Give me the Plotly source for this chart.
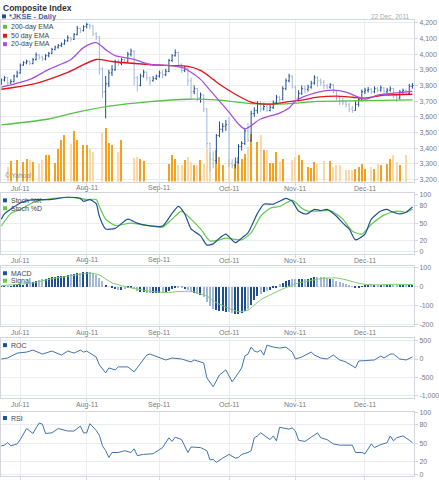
import plotly.graph_objects as go
import pandas as pd

# ---------------- data ----------------
days = [d.strftime("%Y-%m-%d") for d in pd.bdate_range("2011-06-23", "2011-12-22")]  # trading-day axis

month_ticks = ["2011-07-01", "2011-08-01", "2011-09-01", "2011-10-03", "2011-11-01", "2011-12-01"]
month_labels = ["Jul-11", "Aug-11", "Sep-11", "Oct-11", "Nov-11", "Dec-11"]

open_ = [3810, 3835, 3850, 3815, 3825, 3860, 3880, 3930, 3945, 3955,
         3940, 3965, 3995, 3980, 3970, 3990, 4005, 4030, 4045, 4055,
         4065, 4085, 4105, 4095, 4125, 4165, 4150, 4175, 4190, 4180,
         4130, 4110, 3910, 3760, 3810, 3880, 3900, 3950, 3940, 3965,
         3950, 4000, 4020, 3850, 3800, 3860, 3885, 3850, 3830, 3845,
         3860, 3880, 3870, 3890, 3960, 3990, 4010, 3935, 3895, 3910,
         3830, 3760, 3780, 3720, 3740, 3650, 3430, 3330, 3320, 3480,
         3520, 3540, 3550, 3300, 3290, 3310, 3410, 3430, 3510, 3450,
         3620, 3640, 3680, 3650, 3665, 3640, 3660, 3690, 3725, 3710,
         3780, 3830, 3860, 3790, 3720, 3750, 3780, 3775, 3790, 3815,
         3850, 3830, 3820, 3800, 3790, 3805, 3765, 3720, 3700, 3690,
         3680, 3650, 3640, 3680, 3710, 3760, 3770, 3775, 3760, 3780,
         3770, 3785, 3760, 3770, 3780, 3735, 3720, 3760, 3770, 3750,
         3795]
high = [3845, 3860, 3855, 3840, 3870, 3895, 3940, 3955, 3965, 3960,
        3975, 4010, 4000, 3990, 4000, 4015, 4040, 4055, 4065, 4075,
        4095, 4120, 4110, 4135, 4180, 4170, 4185, 4200, 4195, 4185,
        4140, 4115, 3915, 3860, 3900, 3930, 3965, 3970, 3975, 3970,
        4015, 4035, 4025, 3860, 3875, 3900, 3890, 3855, 3860, 3870,
        3895, 3900, 3905, 3970, 4000, 4030, 4015, 3940, 3925, 3915,
        3850, 3800, 3785, 3755, 3745, 3655, 3435, 3380, 3490, 3570,
        3560, 3580, 3600, 3330, 3340, 3425, 3445, 3530, 3560, 3640,
        3660, 3700, 3700, 3690, 3680, 3680, 3705, 3740, 3735, 3795,
        3845, 3875, 3865, 3800, 3770, 3800, 3800, 3805, 3830, 3865,
        3860, 3845, 3835, 3810, 3815, 3810, 3770, 3730, 3720, 3700,
        3690, 3670, 3700, 3720, 3775, 3785, 3790, 3785, 3795, 3790,
        3800, 3790, 3785, 3795, 3785, 3745, 3770, 3780, 3775, 3810,
        3815]
low = [3805, 3825, 3805, 3810, 3820, 3850, 3875, 3925, 3935, 3930,
       3935, 3960, 3965, 3955, 3960, 3980, 4000, 4025, 4035, 4045,
       4060, 4080, 4080, 4090, 4120, 4135, 4145, 4165, 4160, 4115,
       4090, 3870, 3720, 3590, 3790, 3860, 3895, 3925, 3930, 3940,
       3945, 3985, 3800, 3760, 3795, 3850, 3830, 3800, 3825, 3835,
       3850, 3845, 3860, 3885, 3950, 3985, 3920, 3880, 3885, 3800,
       3710, 3745, 3700, 3690, 3630, 3400, 3250, 3270, 3300, 3470,
       3500, 3510, 3280, 3270, 3270, 3300, 3385, 3420, 3440, 3440,
       3600, 3620, 3630, 3640, 3630, 3635, 3650, 3680, 3695, 3705,
       3770, 3820, 3780, 3690, 3700, 3740, 3750, 3760, 3780, 3805,
       3790, 3800, 3775, 3775, 3780, 3750, 3705, 3675, 3675, 3660,
       3630, 3625, 3640, 3665, 3700, 3745, 3755, 3745, 3750, 3755,
       3760, 3745, 3750, 3760, 3720, 3695, 3710, 3745, 3740, 3745,
       3780]
close = [3835, 3850, 3815, 3825, 3860, 3880, 3930, 3945, 3955, 3940,
         3965, 3995, 3980, 3970, 3990, 4005, 4030, 4045, 4055, 4065,
         4085, 4105, 4095, 4125, 4165, 4150, 4175, 4190, 4180, 4130,
         4110, 3910, 3760, 3810, 3880, 3900, 3950, 3940, 3965, 3950,
         4000, 4020, 3850, 3800, 3860, 3885, 3850, 3830, 3845, 3860,
         3880, 3870, 3890, 3960, 3990, 4010, 3935, 3895, 3910, 3830,
         3760, 3780, 3720, 3740, 3650, 3430, 3330, 3320, 3480, 3520,
         3540, 3550, 3300, 3290, 3310, 3410, 3430, 3510, 3450, 3620,
         3640, 3680, 3650, 3665, 3640, 3660, 3690, 3725, 3710, 3780,
         3830, 3860, 3790, 3720, 3750, 3780, 3775, 3790, 3815, 3850,
         3830, 3820, 3800, 3790, 3805, 3765, 3720, 3700, 3690, 3680,
         3650, 3640, 3680, 3710, 3760, 3770, 3775, 3760, 3780, 3770,
         3785, 3760, 3770, 3780, 3735, 3720, 3760, 3770, 3750, 3795,
         3800]
N = None
volume = [N, N, 2250, 3150, N, 3300, N, 3000, 3450, 3300,
          3000, N, 2700, 3300, 4050, 4050, N, 2850, 4950, 6300,
          7050, N, 5700, 7650, 6300, N, 5550, 5550, 4950, 4500,
          N, N, 7350, 8100, 5850, 5550, N, 4500, 6300, N,
          N, N, 3600, 3750, 3450, 3150, N, N, N, N,
          N, N, N, 2700, 4050, 3450, 2550, 2550, 3300, 3750,
          3000, 2550, 2550, 3300, 2700, 4950, 4500, N, 4800, 3750,
          2550, N, 3450, N, 2700, 3750, 3450, 4200, 5250, 7200,
          N, 6000, 7050, 4800, 4800, 2850, 2850, 4500, 3000, 3450,
          N, N, 3300, 3750, 4050, 3300, N, 2250, 2100, 3000,
          2700, N, 3150, N, 3150, 2250, 2550, 2550, N, 1800,
          1800, 1800, 1950, 2250, 2700, 1950, N, 2250, 1950, 2700,
          2550, N, 2700, 3450, 4050, 3000, 2550, N, 4050, N,
          N]
macd = [2, 3, 3, 4, 5, 7, 9, 12,
        15, 21, 25, 30, 35, 40, 43, 47, 50, 53, 56, 58, 60, 63, 66, 68, 71, 74, 77, 79, 78, 72, 62,
        47, 30, 10, 0, -8, -12, -15, -15, -12, -8, -5,
        -12, -20, -25, -30, -33, -35, -35, -35, -35, -33, -30,
        -20, -10, -5, -3, -8, -12, -15, -25, -35, -38, -45, -55,
        -80, -100, -120, -122, -126, -130, -133, -135, -140, -144, -143, -140,
        -126, -118, -95, -70, -50, -37, -30, -21, -15, -8, -4, 14, 22, 32, 36, 40,
        40, 40, 40, 41, 43, 46, 50, 53, 53, 52, 48, 44, 40, 33, 28, 20, 14, 8, 3, -2, -7,
        2, 8, 12, 14, 12, 10, 12, 14, 12, 10, 11, 8, 5, 7, 10, 9, 12]

ema20_idx = [0, 9, 15, 22, 26, 30, 33, 36, 39, 42, 47, 53, 58, 60, 63, 66, 69, 72, 75, 77,
             82, 88, 91, 93, 99, 105, 109, 113, 115, 119, 124, 130]
ema20 = [3789, 3839, 3903, 3966, 4042, 4073, 4029, 3991, 3978, 3966, 3934, 3928, 3909, 3884, 3839,
         3770, 3700, 3630, 3554, 3523, 3586, 3624, 3656, 3700, 3751, 3770, 3757, 3725, 3713, 3738,
         3751, 3763]
ema50_idx = [0, 10, 21, 30, 35, 52, 59, 63, 67, 69, 74, 79, 85, 90, 95, 100, 106, 111, 115, 121, 130]
ema50 = [3776, 3808, 3884, 3966, 3953, 3928, 3922, 3896, 3839, 3808, 3744, 3694, 3681, 3694, 3706,
         3725, 3732, 3725, 3719, 3738, 3744]
ema200_idx = [0, 15, 23, 34, 47, 59, 68, 79, 90, 100, 115, 130]
ema200 = [3548, 3586, 3625, 3668, 3697, 3712, 3708, 3685, 3683, 3698, 3703, 3708]

stk_idx = [0, 1, 6, 9, 11, 15, 21, 25, 26, 28, 30, 31, 33, 36, 40, 43, 46, 51, 54, 56,
           58, 60, 63, 65, 67, 69, 71, 74, 76, 78, 81, 83, 85, 86, 88, 90, 92, 94, 96, 97,
           99, 101, 103, 106, 108, 110, 112, 115, 117, 120, 122, 123, 126, 128, 130]
stoch_k = [57, 66, 85, 90, 91, 91, 95, 93, 88, 91, 84, 62, 40, 41, 57, 50, 46, 45, 67, 79,
           66, 40, 28, 12, 14, 24, 31, 16, 24, 33, 67, 83, 83, 83, 88, 93, 88, 71, 66, 67,
           74, 72, 74, 62, 50, 40, 21, 31, 57, 71, 74, 71, 66, 69, 78]
std_idx = [0, 3, 6, 11, 21, 27, 30, 31, 33, 36, 41, 46, 51, 54, 57, 60, 63, 66, 69, 71,
           76, 79, 82, 85, 88, 92, 95, 97, 100, 104, 108, 111, 114, 117, 121, 125, 128, 130]
stoch_d = [45, 67, 74, 88, 95, 91, 91, 79, 57, 46, 50, 46, 43, 57, 71, 57, 40, 19, 21, 24,
           21, 33, 62, 76, 79, 90, 76, 71, 71, 72, 57, 36, 31, 48, 64, 71, 69, 74]

sig_idx = [0, 10, 16, 23, 28, 31, 35, 40, 46, 52, 56, 60, 65, 68, 72, 75, 78, 82, 87, 90,
           93, 97, 102, 106, 109, 112, 115, 119, 123, 130]
signal = [5, 20, 42, 60, 72, 62, 20, -3, -22, -32, -26, -25, -50, -85, -115, -133, -125, -70, -28, -5,
          15, 30, 44, 46, 36, 22, 12, 9, 12, 11]

roc_idx = [0, 2, 5, 8, 10, 13, 16, 19, 21, 23, 25, 26, 27, 30, 31, 33, 34, 36, 37, 40,
           42, 43, 46, 47, 50, 52, 54, 57, 60, 61, 64, 65, 67, 69, 71, 73, 75, 76, 77, 78,
           79, 80, 81, 82, 83, 84, 86, 88, 90, 92, 93, 95, 98, 99, 101, 103, 105, 107, 109, 112,
           113, 115, 118, 120, 121, 123, 124, 126, 128, 130]
roc = [0, 27, 163, 190, 245, 136, 218, 109, 218, 163, 245, 190, 218, 55, -163, -381, -245, -300, -218, -218,
       -354, -245, 109, 136, 27, -27, 27, 0, -82, -27, -109, -518, -763, -436, -300, -627, -381, -245, 82, 136,
       327, 218, 190, 245, 109, 381, 327, 300, 327, 190, 0, 55, 190, 109, 27, 0, 109, -27, -82, -245,
       -55, -40, -27, 82, 27, 136, 136, 0, -27, 55]

rsi_idx = [0, 1, 2, 3, 5, 6, 8, 10, 11, 12, 13, 14, 16, 18, 21, 23, 25, 26, 27, 28,
           30, 31, 32, 33, 34, 35, 37, 39, 41, 42, 43, 45, 48, 51, 53, 54, 55, 57, 59, 60,
           63, 65, 66, 67, 68, 69, 70, 72, 74, 75, 76, 78, 79, 80, 81, 82, 84, 85, 86, 87,
           88, 90, 91, 92, 93, 94, 96, 98, 100, 101, 103, 105, 107, 111, 112, 114, 115, 117, 118, 120,
           122, 123, 124, 125, 127, 129, 130]
rsi = [46, 47, 51, 46, 49, 56, 74, 66, 75, 83, 81, 66, 67, 74, 70, 70, 78, 67, 67, 82,
       71, 63, 46, 38, 27, 35, 35, 38, 35, 41, 30, 32, 33, 43, 59, 53, 60, 56, 35, 44,
       43, 38, 23, 24, 19, 23, 26, 32, 26, 27, 32, 35, 38, 59, 62, 67, 59, 56, 62, 54,
       76, 74, 73, 75, 70, 55, 53, 60, 67, 59, 56, 49, 47, 47, 35, 35, 33, 49, 43, 48,
       51, 62, 54, 59, 62, 55, 51]

price_ticks = [3200, 3300, 3400, 3500, 3600, 3700, 3800, 3900, 4000, 4100, 4200]
price_labels = ["3,200", "3,300", "3,400", "3,500", "3,600", "3,700", "3,800", "3,900", "4,000", "4,100", "4,200"]
osc_ticks = [0, 20, 50, 80, 100]
osc_labels = ["0", "20", "50", "80", "100"]
macd_ticks = [-200, -100, 0, 100]
macd_labels = ["-200", "-100", "0", "100"]
roc_ticks = [-1000, -500, 0, 500]
roc_labels = ["-1,000", "-500", "0", "500"]

# ---------------- styling / geometry ----------------
W, H = 439, 480
L, R = 1, 23
FONT = "Liberation Sans, Arial, sans-serif"
GRID = "#e9ecf1"
BORDER = "#d3d7dd"
TXT = "#7a7a7a"
UP_BAR, DN_BAR = "#1f4f8f", "#a3b8d6"
UP_VOL, DN_VOL = "#f5a11c", "#fdd8a4"
C200, C50, C20 = "#55c144", "#e3131b", "#a64fe0"
K_COL, D_COL = "#21528f", "#62c94f"
X_RANGE = [-0.1, 130.5]


def yp(px):
    return 1 - px / H


def xp(px):
    return (px - L) / (W - L - R)


def pick(idx):
    return [days[i] for i in idx]


up = [c >= o for o, c in zip(open_, close)]
vol_colors = [UP_VOL if u else DN_VOL for u in up]
macd_colors = [UP_BAR if u else DN_BAR for u in up]

fig = go.Figure()

# main panel
fig.add_trace(go.Bar(x=days, y=volume, marker_color=vol_colors, marker_line_width=0,
                     width=0.36, xaxis="x", yaxis="y"))
fig.add_trace(go.Ohlc(x=days, open=open_, high=high, low=low, close=close,
                      increasing_line_color=UP_BAR, decreasing_line_color=DN_BAR,
                      line_width=1, tickwidth=0.35, xaxis="x", yaxis="y2"))
for idx, vals, col in [(ema200_idx, ema200, C200), (ema50_idx, ema50, C50), (ema20_idx, ema20, C20)]:
    fig.add_trace(go.Scatter(x=pick(idx), y=vals, mode="lines",
                             line=dict(color=col, width=1.3, shape="spline", smoothing=0.8),
                             xaxis="x", yaxis="y2"))

# stochastics
fig.add_trace(go.Scatter(x=pick(std_idx), y=stoch_d, mode="lines",
                         line=dict(color=D_COL, width=1.2, shape="spline", smoothing=0.6),
                         xaxis="x2", yaxis="y3"))
fig.add_trace(go.Scatter(x=pick(stk_idx), y=stoch_k, mode="lines",
                         line=dict(color=K_COL, width=1.2, shape="spline", smoothing=0.6),
                         xaxis="x2", yaxis="y3"))

# MACD
fig.add_trace(go.Bar(x=days, y=macd, marker_color=macd_colors, marker_line_width=0,
                     width=0.36, xaxis="x3", yaxis="y4"))
fig.add_trace(go.Scatter(x=pick(sig_idx), y=signal, mode="lines",
                         line=dict(color="#7acc68", width=1, shape="spline", smoothing=0.6),
                         xaxis="x3", yaxis="y4"))

# ROC
fig.add_trace(go.Scatter(x=pick(roc_idx), y=roc, mode="lines",
                         line=dict(color="#4272ae", width=1), xaxis="x4", yaxis="y5"))
# RSI
fig.add_trace(go.Scatter(x=pick(rsi_idx), y=rsi, mode="lines",
                         line=dict(color="#4272ae", width=1), xaxis="x5", yaxis="y6"))


def xaxis_cfg(anchor):
    return dict(type="category", categoryorder="array", categoryarray=days,
                range=X_RANGE, anchor=anchor, domain=[0, 1],
                tickmode="array", tickvals=month_ticks, ticktext=month_labels,
                showticklabels=False,
                showgrid=True, gridcolor=GRID, gridwidth=1, zeroline=False,
                showline=True, linecolor=BORDER, linewidth=1, mirror=True,
                ticks="outside", ticklen=3, tickcolor=BORDER, fixedrange=True,
                rangeslider=dict(visible=False))


ycommon = dict(side="right", showgrid=True, gridcolor=GRID, gridwidth=1, zeroline=False,
               showline=True, linecolor=BORDER, linewidth=1, mirror=True,
               ticks="outside", ticklen=3, tickcolor=BORDER, tickmode="array",
               tickfont=dict(size=7, color=TXT, family=FONT), fixedrange=True)

layout = dict(
    width=W, height=H,
    margin=dict(l=L, r=R, t=0, b=0),
    paper_bgcolor="white", plot_bgcolor="white",
    showlegend=False, bargap=0, hovermode=False,
    font=dict(family=FONT, size=7, color=TXT),
    xaxis=xaxis_cfg("y"),
    xaxis2=xaxis_cfg("y3"),
    xaxis3=xaxis_cfg("y4"),
    xaxis4=xaxis_cfg("y5"),
    xaxis5=xaxis_cfg("y6"),
    yaxis=dict(domain=[yp(180), yp(17)], range=[0, 24450], visible=False, fixedrange=True),
    yaxis2=dict(ycommon, overlaying="y", anchor="x", range=[3187, 4219],
                tickvals=price_ticks, ticktext=price_labels),
    yaxis3=dict(ycommon, anchor="x2", domain=[yp(253), yp(192)], range=[-3.4, 101.7],
                tickvals=osc_ticks, ticktext=osc_labels),
    yaxis4=dict(ycommon, anchor="x3", domain=[yp(326), yp(265)], range=[-210.5, 110.5],
                tickvals=macd_ticks, ticktext=macd_labels),
    yaxis5=dict(ycommon, anchor="x4", domain=[yp(398), yp(338)], range=[-1063, 572],
                tickvals=roc_ticks, ticktext=roc_labels),
    yaxis6=dict(ycommon, anchor="x5", domain=[yp(477), yp(412)], range=[-3.2, 101.6],
                tickvals=osc_ticks, ticktext=osc_labels),
)
fig.update_layout(**layout)

annotations = []
shapes = []


def text(xpx, ypx, s, size=7, color="#333333", anchor="left", bold=False):
    annotations.append(dict(x=xp(xpx), y=yp(ypx), xref="paper", yref="paper",
                            text=("<b>%s</b>" % s) if bold else s, showarrow=False,
                            xanchor=anchor, yanchor="middle",
                            font=dict(size=size, color=color, family=FONT)))


def square(xpx, ypx, color, size=4):
    shapes.append(dict(type="rect", xref="paper", yref="paper",
                       x0=xp(xpx), x1=xp(xpx + size), y0=yp(ypx + size / 2), y1=yp(ypx - size / 2),
                       fillcolor=color, line=dict(width=0)))


text(1, 5, "Composite Index", size=8.5, color="#333333", bold=True)
square(2, 13.5, UP_BAR)
text(7, 13.5, "*JKSE - Daily", size=7.5, color="#3a66a8", bold=True)
text(414, 13.5, "22 Dec, 2011", size=6.5, color="#aaaaaa", anchor="right")

for ypx, label, col in [(24, "200-day EMA", C200), (33, "50 day EMA", C50), (41.5, "20-day EMA", C20)]:
    square(3, ypx, col)
    text(9, ypx, label, size=7, color="#444444")
text(3, 174, "© Yahoo!", size=6.5, color="#888888")

for ypx, label, col in [(199, "Stoch %K", K_COL), (207, "Stoch %D", D_COL),
                        (272.5, "MACD", K_COL), (280, "Signal", D_COL),
                        (345, "ROC", K_COL), (418.5, "RSI", K_COL)]:
    square(3, ypx, col)
    text(9, ypx, label, size=7, color="#444444")

# month labels under each panel, positioned on the category axis of that panel
for xa, ya, ypx in [("x", "y", 187), ("x2", "y3", 259.5), ("x3", "y4", 332.5), ("x4", "y5", 405)]:
    for tv, tl in zip(month_ticks, month_labels):
        annotations.append(dict(x=tv, xref=xa, y=yp(ypx), yref="paper", text=tl,
                                showarrow=False, xanchor="center", yanchor="middle",
                                font=dict(size=7, color=TXT, family=FONT)))

fig.update_layout(annotations=annotations, shapes=shapes)

fig.write_html("out.html")
